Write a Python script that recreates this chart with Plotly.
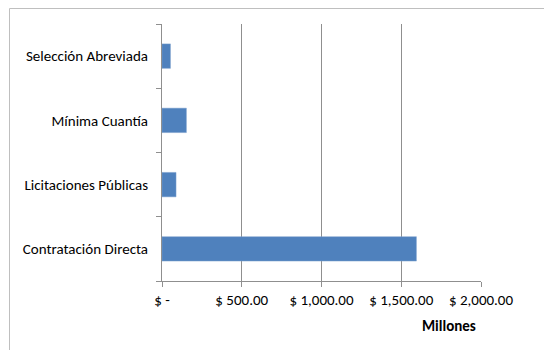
import plotly.graph_objects as go

# Datos (millones de pesos)
modalidades = ['Contratación Directa', 'Licitaciones Públicas', 'Mínima Cuantía', 'Selección Abreviada']
montos = [1595, 88, 153, 53]

tick_vals = [0, 500, 1000, 1500, 2000]
tick_text = ['$ -', '$ 500.00', '$ 1,000.00', '$ 1,500.00', '$ 2,000.00']

# la pagina agrega 8px de margen al body; se compensa aqui
OFF = 8
W, H = 552 - OFF, 350 - OFF
L, R, T, B = 162 - OFF, 71, 24 - OFF, 69
pw, ph = W - L - R, H - T - B

FONT = dict(family='Calibri, Carlito, Lato, sans-serif', size=15, color='#000000')

fig = go.Figure()

fig.add_trace(go.Bar(
    x=montos,
    y=modalidades,
    orientation='h',
    marker=dict(color='#4f81bd', line=dict(color='#7fa3cf', width=0.5)),
    showlegend=False,
))

fig.update_layout(
    width=W,
    height=H,
    margin=dict(l=L, r=R, t=T, b=B, autoexpand=False),
    paper_bgcolor='white',
    plot_bgcolor='white',
    bargap=0.62,
    font=FONT,
    xaxis=dict(
        range=[0, 2000],
        tickvals=tick_vals,
        ticktext=tick_text,
        showgrid=True,
        gridcolor='#8f8f8f',
        gridwidth=1,
        zeroline=False,
        showline=True,
        linecolor='#8f8f8f',
        ticks='outside',
        ticklen=5,
        tickcolor='#8f8f8f',
        tickfont=FONT,
        automargin=False,
    ),
    yaxis=dict(
        range=[-0.5, 3.5],
        tickson='boundaries',
        ticks='outside',
        ticklen=5,
        tickcolor='#8f8f8f',
        showline=True,
        linecolor='#8f8f8f',
        showgrid=False,
        tickfont=FONT,
        ticklabelstandoff=10,
        automargin=False,
    ),
    annotations=[dict(
        text='<b>Millones</b>',
        xref='paper', yref='paper',
        x=(449 - 162) / pw, y=(281 - 326) / ph,
        xanchor='center', yanchor='middle',
        showarrow=False,
        font=FONT,
    )],
    shapes=[dict(
        type='rect',
        xref='paper', yref='paper',
        x0=(9.5 - 162) / pw, x1=(600 - 162) / pw,
        y0=(281 - 400) / ph, y1=(281 - 8.5) / ph,
        line=dict(color='#bfbfbf', width=1),
        fillcolor='rgba(0,0,0,0)',
        layer='below',
    )],
)

fig.write_html('out.html')
